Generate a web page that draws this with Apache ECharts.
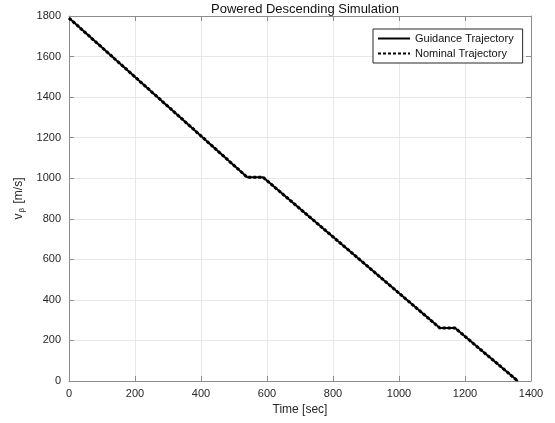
<!DOCTYPE html>
<html>
<head>
<meta charset="utf-8">
<script src="https://cdn.jsdelivr.net/npm/echarts@6/dist/echarts.min.js"></script>
<style>html,body{margin:0;padding:0;background:#fff}#c{width:555px;height:423px}</style>
</head>
<body>
<div id="c"></div>
<script>
var guidanceTime = [0, 540, 588, 1124, 1170, 1360];
var guidanceVel  = [1790, 1005, 1005, 261, 261, 0];
var nominalTime  = [0, 540, 588, 1124, 1170, 1360];
var nominalVel   = [1790, 1005, 1005, 261, 261, 0];
var xTicks = [0, 200, 400, 600, 800, 1000, 1200, 1400];
var yTicks = [0, 200, 400, 600, 800, 1000, 1200, 1400, 1600, 1800];

function pairs(t, v) { return t.map(function (x, i) { return [x, v[i]]; }); }
function fmt(v) { return String(v); }

var FONT = 'Liberation Sans';
var chart = echarts.init(document.getElementById('c'), null, {renderer: 'canvas'});
var axisCommon = {
  axisLine: {show: true, onZero: false, lineStyle: {color: '#8c8c8c', width: 1}},
  axisTick: {show: true, inside: true, length: 5, lineStyle: {color: '#8c8c8c'}},
};
chart.setOption({
  animation: false,
  textStyle: {fontFamily: FONT},
  title: {
    text: 'Powered Descending Simulation', left: 300, textAlign: 'center', top: -2,
    textStyle: {fontSize: 13, fontWeight: 'normal', color: '#111', fontFamily: FONT}
  },
  grid: {left: 69, right: 24, top: 16, bottom: 42},
  legend: {
    left: 373, top: 29, orient: 'vertical', itemWidth: 32, itemHeight: 10, itemGap: 4,
    padding: [4, 9, 4, 4], borderColor: '#262626', borderWidth: 1, backgroundColor: '#fff',
    itemStyle: {color: 'transparent', borderWidth: 0, opacity: 0},
    textStyle: {fontSize: 11, color: '#111', fontFamily: FONT},
    data: ['Guidance Trajectory', 'Nominal Trajectory']
  },
  xAxis: [
    Object.assign({
      type: 'value', min: 0, max: 1400, interval: 200,
      name: 'Time [sec]', nameLocation: 'middle', nameGap: 23,
      nameTextStyle: {fontSize: 12, color: '#262626'},
      axisLabel: {fontSize: 11, color: '#262626', margin: 7, formatter: fmt},
      splitLine: {show: true, lineStyle: {color: '#e8e8e8', width: 1}}
    }, axisCommon),
    Object.assign({
      type: 'value', min: 0, max: 1400, interval: 200, position: 'top',
      axisLabel: {show: false}, splitLine: {show: false}
    }, axisCommon)
  ],
  yAxis: [
    Object.assign({
      type: 'value', min: 0, max: 1800, interval: 200,
      name: '{a|v}{b|β}{a| [m/s]}', nameLocation: 'middle', nameGap: 34, nameRotate: 90,
      nameTextStyle: {
        rich: {
          a: {fontSize: 12, color: '#262626', fontFamily: FONT},
          b: {fontSize: 8, color: '#262626', fontFamily: FONT, padding: [6, 1, 0, 1]}
        }
      },
      axisLabel: {fontSize: 11, color: '#262626', margin: 8, formatter: fmt},
      splitLine: {show: true, lineStyle: {color: '#e8e8e8', width: 1}}
    }, axisCommon),
    Object.assign({
      type: 'value', min: 0, max: 1800, interval: 200, position: 'right',
      axisLabel: {show: false}, splitLine: {show: false}
    }, axisCommon)
  ],
  series: [
    {
      name: 'Guidance Trajectory', type: 'line', symbol: 'none',
      data: pairs(guidanceTime, guidanceVel),
      lineStyle: {color: '#000', width: 2, type: 'solid'}, itemStyle: {color: '#000'}
    },
    {
      name: 'Nominal Trajectory', type: 'line', symbol: 'none',
      data: pairs(nominalTime, nominalVel),
      lineStyle: {color: '#000', width: 3, type: [3, 2]}, itemStyle: {color: '#000'}
    }
  ]
});
</script>
</body>
</html>
